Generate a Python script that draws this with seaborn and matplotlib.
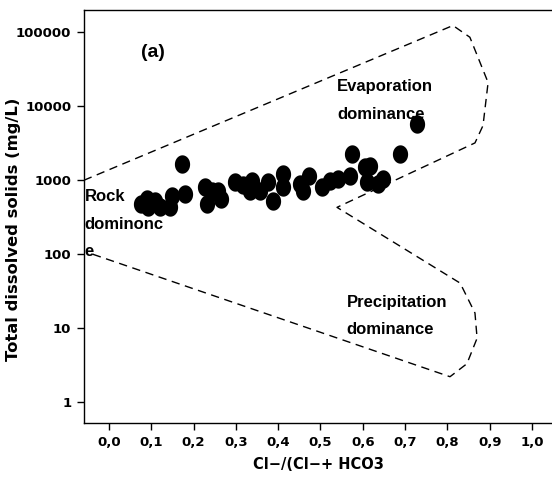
import numpy as np
import pandas as pd
import seaborn as sns
import matplotlib
matplotlib.use("Agg")
import matplotlib.pyplot as plt
from matplotlib.ticker import FixedLocator, FuncFormatter

# sample points
cl_ratio = [0.077, 0.090, 0.093, 0.109, 0.121, 0.144, 0.148, 0.172, 0.180, 0.227,
            0.231, 0.243, 0.258, 0.266, 0.299, 0.318, 0.333, 0.337, 0.357, 0.377,
            0.388, 0.412, 0.412, 0.452, 0.459, 0.474, 0.503, 0.522, 0.542, 0.570,
            0.574, 0.604, 0.609, 0.617, 0.637, 0.648, 0.688, 0.727]
tds = [479, 560, 431, 531, 431, 431, 621, 1660, 653, 804,
       479, 725, 725, 560, 940, 850, 725, 990, 725, 940,
       531, 1217, 804, 891, 725, 1132, 804, 990, 1042, 1156,
       2270, 1500, 940, 1578, 891, 1042, 2270, 5760]

# dashed Gibbs boundary
boundary_x = [-0.059, 0.813, 0.853, 0.896, 0.884, 0.865, 0.539, 0.830, 0.865, 0.870, 0.846, 0.806, -0.045]
boundary_y = [1000, 124000, 86000, 21000, 5500, 3200, 430, 40.6, 16, 7.3, 3.3, 2.2, 103]

x_ticks = [0.0, 0.1, 0.2, 0.3, 0.4, 0.5, 0.6, 0.7, 0.8, 0.9, 1.0]
y_ticks = [1, 10, 100, 1000, 10000, 100000]

sns.set_style("ticks")
plt.rcParams['font.family'] = ['DejaVu Sans']
plt.rcParams['text.color'] = 'black'
plt.rcParams['axes.labelcolor'] = 'black'
plt.rcParams['xtick.color'] = 'black'
plt.rcParams['ytick.color'] = 'black'
note_font = ['Liberation Sans Narrow', 'Liberation Sans', 'DejaVu Sans']

# slightly tall ellipse, the dots in the original look stretched
t = np.linspace(0, 2 * np.pi, 40)
blob = np.column_stack([0.83 * np.cos(t), np.sin(t)])

fig = plt.figure(figsize=(5.52, 4.84), dpi=100)
ax = fig.add_axes([0.152, 0.126, 0.848, 0.853])

df = pd.DataFrame({'ratio': cl_ratio, 'tds': tds})
sns.scatterplot(data=df, x='ratio', y='tds', ax=ax, color='black', s=175, marker=blob,
                edgecolor='black', linewidth=0, legend=False, zorder=3)
ax.plot(boundary_x, boundary_y, color='black', lw=1.0, dashes=(6, 4), zorder=2)

ax.set_yscale('log')
ax.set_xlim(-0.059, 1.047)
ax.set_ylim(0.52, 2.0e5)
ax.xaxis.set_major_locator(FixedLocator(x_ticks))
ax.xaxis.set_major_formatter(FuncFormatter(lambda v, p: f"{v:.1f}".replace('.', ',')))
ax.yaxis.set_major_locator(FixedLocator(y_ticks))
ax.yaxis.set_major_formatter(FuncFormatter(lambda v, p: f"{int(v)}"))
ax.yaxis.set_minor_locator(FixedLocator([]))

ax.tick_params(axis='both', direction='out', length=5, width=1, labelsize=9.5, pad=4,
               colors='black')
for lab in ax.get_xticklabels() + ax.get_yticklabels():
    lab.set_fontweight('bold')

for s in ['left', 'bottom', 'top']:
    ax.spines[s].set_linewidth(1.0)
    ax.spines[s].set_color('black')
ax.spines['right'].set_visible(False)

ax.set_xlabel('Cl\u2212/(Cl\u2212+ HCO3', fontsize=10.5, fontweight='bold', labelpad=6)
ax.set_ylabel('Total dissolved solids (mg/L)', fontsize=11.8, fontweight='bold')
ax.yaxis.set_label_coords(-0.135, 0.47)

ax.text(0.104, 10**4.73, '(a)', family=note_font, fontsize=14, fontweight='bold',
        ha='center', va='center')
ax.text(0.539, 10**4.37, 'Evaporation\ndominance', family=note_font, fontsize=12,
        fontweight='bold', ha='left', va='top', linespacing=2.05)
ax.text(-0.057, 10**2.88, 'Rock\ndominonc\ne', family=note_font, fontsize=12,
        fontweight='bold', ha='left', va='top', linespacing=2.05)
ax.text(0.562, 10**1.45, 'Precipitation\ndominance', family=note_font, fontsize=12,
        fontweight='bold', ha='left', va='top', linespacing=2.05)

fig.savefig('out.png', dpi=100)
